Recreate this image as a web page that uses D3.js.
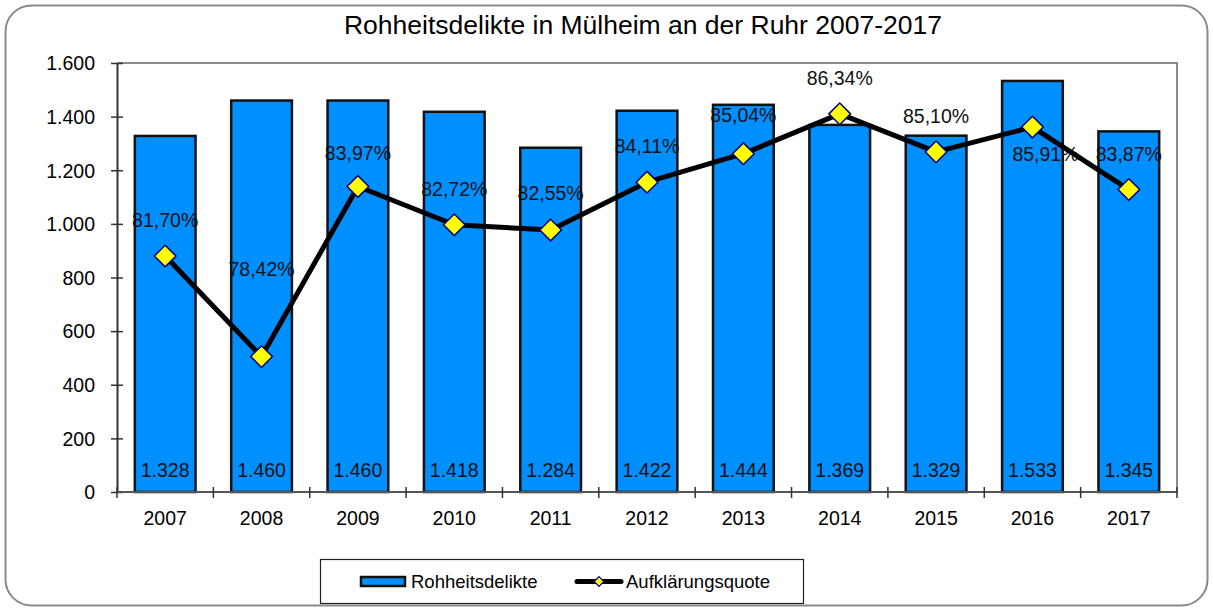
<!DOCTYPE html>
<html>
<head>
<meta charset="utf-8">
<script src="https://cdn.jsdelivr.net/npm/d3@7"></script>
<style>
  body { margin: 0; background: #fff; }
  svg { display: block; font-family: "Liberation Sans", Arial, sans-serif; }
</style>
</head>
<body>
<svg id="chart" width="1213" height="608"></svg>
<script>
// Rohheitsdelikte (cases) and Aufklärungsquote (clearance rate, %) per year
const years = ["2007","2008","2009","2010","2011","2012","2013","2014","2015","2016","2017"];
const cases = [1328, 1460, 1460, 1418, 1284, 1422, 1444, 1369, 1329, 1533, 1345];
const rate  = [81.70, 78.42, 83.97, 82.72, 82.55, 84.11, 85.04, 86.34, 85.10, 85.91, 83.87];
const yTicks = [0, 200, 400, 600, 800, 1000, 1200, 1400, 1600];
// label placement around each rate marker (dx, dy of the baseline)
const rateLabelDx = [0, 0, 0, 0, 0, 0, 0, 0, 0, 13, 0];
const rateLabelDy = [-29, -81, -26, -29, -30, -29, -32, -29, -29, 34, -29];

const svg = d3.select("#chart");
const W = 1213, H = 608;
const m = { left: 117, right: 1177, top: 63, bottom: 492 };
const FS = 19.5;

const deNum = d3.formatLocale({ decimal: ",", thousands: ".", grouping: [3], currency: ["", "€"] });
const fmtInt = deNum.format(",d");
const fmtPct = v => deNum.format(".2f")(v) + "%";

// outer frame
svg.append("rect")
  .attr("x", 5.5).attr("y", 5.5).attr("width", W - 11).attr("height", H - 8)
  .attr("rx", 26).attr("ry", 26)
  .attr("fill", "#fff").attr("stroke", "#8a8a8a").attr("stroke-width", 2);

// title
svg.append("text")
  .attr("x", 643).attr("y", 34)
  .attr("text-anchor", "middle").attr("font-size", 26.5).attr("fill", "#000")
  .text("Rohheitsdelikte in Mülheim an der Ruhr 2007-2017");

const x = d3.scaleBand().domain(years).range([m.left, m.right]).paddingInner(0.37).paddingOuter(0.185);
const xBand = d3.scaleBand().domain(years).range([m.left, m.right]);
const y = d3.scaleLinear().domain([0, 1600]).range([m.bottom, m.top]);
const y2 = d3.scaleLinear().domain([74, 88]).range([m.bottom, m.top]);

// plot border (top/right)
svg.append("path")
  .attr("d", `M${m.left},${m.top}H${m.right}V${m.bottom}`)
  .attr("fill", "none").attr("stroke", "#8c8c8c").attr("stroke-width", 2);

// bars
svg.append("g").selectAll("rect").data(years).join("rect")
  .attr("x", d => x(d))
  .attr("y", (d, i) => y(cases[i]))
  .attr("width", x.bandwidth())
  .attr("height", (d, i) => y(0) - y(cases[i]))
  .attr("fill", "#008fff").attr("stroke", "#111").attr("stroke-width", 2.5);

// bar value labels
svg.append("g").selectAll("text").data(years).join("text")
  .attr("x", d => x(d) + x.bandwidth() / 2)
  .attr("y", 477)
  .attr("text-anchor", "middle").attr("font-size", FS).attr("fill", "#111")
  .text((d, i) => fmtInt(cases[i]));

// y axis
const yAxis = svg.append("g").attr("transform", `translate(${m.left},0)`)
  .call(d3.axisLeft(y).tickValues(yTicks).tickFormat(fmtInt).tickSizeInner(6).tickSizeOuter(0).tickPadding(16));
yAxis.select(".domain").attr("stroke", "#333").attr("stroke-width", 2);
yAxis.selectAll(".tick line").attr("stroke", "#333").attr("stroke-width", 1.5).attr("x2", 6).attr("x1", -6);
yAxis.selectAll(".tick text").attr("font-size", FS).attr("fill", "#000")
  .attr("font-family", "Liberation Sans, Arial, sans-serif").attr("dy", "0.35em");

// x axis with ticks between categories
const xAxisG = svg.append("g").attr("transform", `translate(0,${m.bottom})`);
xAxisG.append("line").attr("x1", m.left).attr("x2", m.right).attr("stroke", "#555").attr("stroke-width", 2);
xAxisG.selectAll(".sep").data(years.concat(["end"])).join("line")
  .attr("x1", (d, i) => m.left + i * xBand.step())
  .attr("x2", (d, i) => m.left + i * xBand.step())
  .attr("y1", -5).attr("y2", 6).attr("stroke", "#333").attr("stroke-width", 1.5);
xAxisG.selectAll("text").data(years).join("text")
  .attr("x", d => xBand(d) + xBand.bandwidth() / 2)
  .attr("y", 33)
  .attr("text-anchor", "middle").attr("font-size", FS).attr("fill", "#000")
  .text(d => d);

// clearance-rate labels (under the line)
const cx = d => xBand(d) + xBand.bandwidth() / 2;
svg.append("g").selectAll("text").data(rate).join("text")
  .attr("x", (d, i) => cx(years[i]) + rateLabelDx[i])
  .attr("y", (d, i) => y2(d) + rateLabelDy[i])
  .attr("text-anchor", "middle").attr("font-size", FS).attr("fill", "#111")
  .text(d => fmtPct(d));

// clearance-rate line
const line = d3.line().x((d, i) => cx(years[i])).y(d => y2(d));
svg.append("path").datum(rate)
  .attr("d", line).attr("fill", "none")
  .attr("stroke", "#000").attr("stroke-width", 5).attr("stroke-linejoin", "round");

const diamond = d3.symbol().type(d3.symbolDiamond2).size(300);
svg.append("g").selectAll("path").data(rate).join("path")
  .attr("transform", (d, i) => `translate(${cx(years[i])},${y2(d)})`)
  .attr("d", diamond)
  .attr("fill", "#ffff00").attr("stroke", "#000080").attr("stroke-width", 1.5);

// legend
const lg = svg.append("g");
lg.append("rect").attr("x", 320.5).attr("y", 559.5).attr("width", 483).attr("height", 44)
  .attr("fill", "#fff").attr("stroke", "#222").attr("stroke-width", 1.2);
lg.append("rect").attr("x", 361).attr("y", 577).attr("width", 44).attr("height", 9)
  .attr("fill", "#008fff").attr("stroke", "#111").attr("stroke-width", 2.5);
lg.append("text").attr("x", 411).attr("y", 588).attr("font-size", 18.5).attr("fill", "#000").text("Rohheitsdelikte");
lg.append("line").attr("x1", 577).attr("x2", 621).attr("y1", 581.5).attr("y2", 581.5)
  .attr("stroke", "#000").attr("stroke-width", 5).attr("stroke-linecap", "round");
lg.append("path").attr("transform", "translate(599,581.5)")
  .attr("d", d3.symbol().type(d3.symbolDiamond2).size(60))
  .attr("fill", "#ffff00").attr("stroke", "#000080").attr("stroke-width", 1.2);
lg.append("text").attr("x", 626).attr("y", 588).attr("font-size", 18.5).attr("fill", "#000").text("Aufklärungsquote");
</script>
</body>
</html>
